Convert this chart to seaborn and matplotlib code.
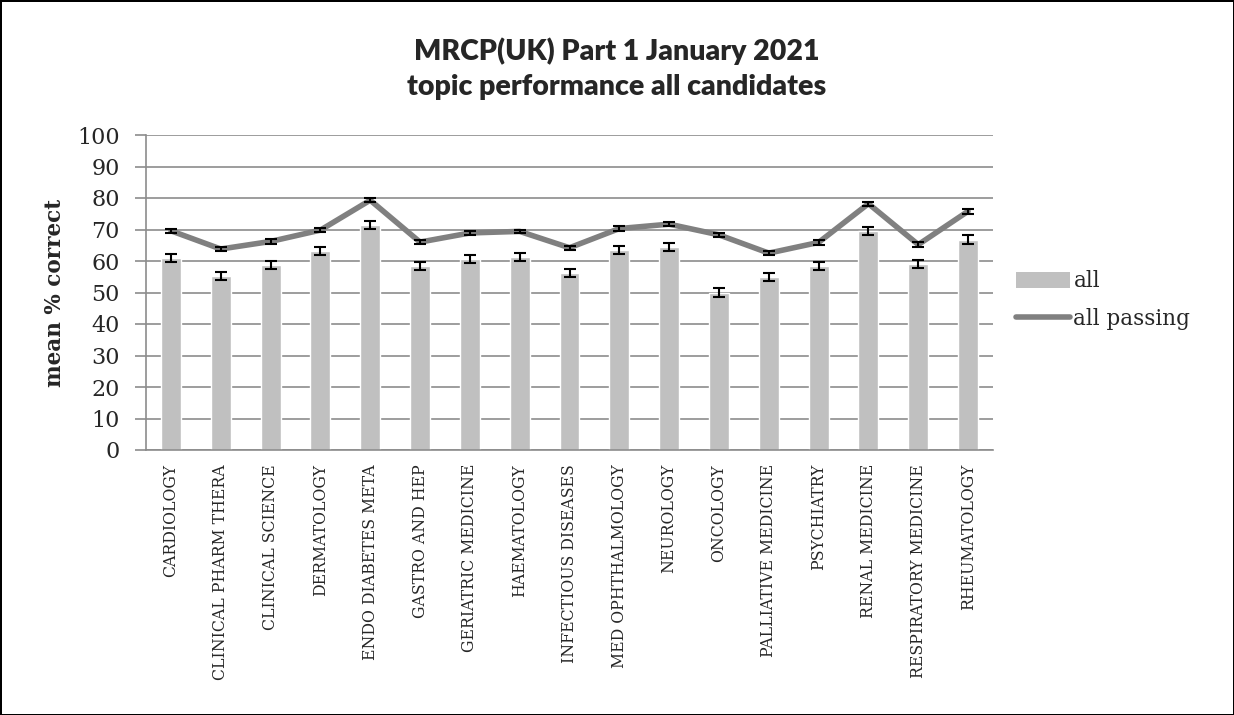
import numpy as np
import matplotlib
matplotlib.use("Agg")
import matplotlib.pyplot as plt
import seaborn as sns
from matplotlib.patches import Patch
from matplotlib.lines import Line2D

topics = ["CARDIOLOGY", "CLINICAL PHARM THERA", "CLINICAL SCIENCE", "DERMATOLOGY",
          "ENDO DIABETES META", "GASTRO AND HEP", "GERIATRIC MEDICINE", "HAEMATOLOGY",
          "INFECTIOUS DISEASES", "MED OPHTHALMOLOGY", "NEUROLOGY", "ONCOLOGY",
          "PALLIATIVE MEDICINE", "PSYCHIATRY", "RENAL MEDICINE", "RESPIRATORY MEDICINE",
          "RHEUMATOLOGY"]
all_vals = [61.0, 55.3, 58.8, 63.3, 71.5, 58.5, 60.6, 61.3, 56.2, 63.5, 64.4, 50.0,
            54.8, 58.5, 69.4, 59.0, 66.8]
all_err = [1.3, 1.3, 1.3, 1.3, 1.3, 1.3, 1.3, 1.3, 1.3, 1.3, 1.2, 1.3, 1.3, 1.3, 1.3, 1.3, 1.3]
passing_vals = [69.6, 63.8, 66.2, 69.8, 79.3, 66.0, 68.9, 69.4, 64.2, 70.3, 71.7, 68.3,
                62.5, 65.9, 78.2, 65.2, 75.8]
passing_err = [0.7, 0.7, 0.7, 0.7, 0.6, 0.7, 0.6, 0.6, 0.7, 0.7, 0.6, 0.7, 0.7, 0.7, 0.6, 0.7, 0.8]
yticks = list(range(0, 101, 10))

sns.set_theme(style="white")
plt.rcParams["font.family"] = ["DejaVu Serif"]

fig = plt.figure(figsize=(12.34, 7.15), dpi=100)
fig.patch.set_edgecolor("black")
fig.patch.set_linewidth(2)
ax = fig.add_axes([146 / 1234, 1 - 450 / 715, (993 - 146) / 1234, (450 - 135) / 715])

bar_color = "#C0C0C0"
line_color = "#808080"

sns.barplot(x=topics, y=all_vals, color=bar_color, width=0.4, saturation=1, ax=ax, zorder=2)
pos = np.arange(len(topics))
ax.errorbar(pos, all_vals, yerr=all_err, fmt="none", ecolor="black", elinewidth=1.5,
            capsize=4, capthick=1.5, zorder=4)
sns.lineplot(x=pos, y=passing_vals, color=line_color, linewidth=4, ax=ax, zorder=3)
ax.errorbar(pos, passing_vals, yerr=passing_err, fmt="none", ecolor="black", elinewidth=1.5,
            capsize=4.5, capthick=1.5, zorder=4)

ax.set_ylim(0, 100)
ax.set_xlim(-0.5, len(topics) - 0.5)
ax.set_yticks(yticks)
ax.set_yticklabels([str(v) for v in yticks], fontsize=16)
ax.set_xticks(pos)
ax.set_xticklabels(topics, rotation=90, fontsize=11.3)
ax.yaxis.grid(True, color="#8C8C8C", linewidth=1.2)
ax.set_axisbelow(True)
for s in ["top", "right"]:
    ax.spines[s].set_visible(False)
ax.spines["left"].set_color("#8C8C8C")
ax.spines["bottom"].set_color("#8C8C8C")
ax.spines["left"].set_linewidth(1.2)
ax.spines["bottom"].set_linewidth(1.2)
ax.tick_params(axis="y", which="major", left=True, length=8, width=1.2, color="#8C8C8C", pad=11)
ax.tick_params(axis="x", bottom=False, length=0, pad=10)
ax.set_xlabel("")
ax.set_ylabel("mean % correct", fontsize=15.5, fontweight="bold", labelpad=8)

fig.suptitle("MRCP(UK) Part 1 January 2021\ntopic performance all candidates",
             fontsize=20.5, fontweight="heavy", family=["Lato", "DejaVu Sans"], y=0.948,
             linespacing=1.45)

handles = [Patch(facecolor=bar_color, edgecolor="none", label="all"),
           Line2D([0], [0], color=line_color, linewidth=4, label="all passing")]
fig.legend(handles=handles, loc="center left", bbox_to_anchor=(997 / 1234, 1 - 300 / 715),
           frameon=False, fontsize=15.5, handlelength=2.5, handleheight=0.8,
           handletextpad=0.15, labelspacing=0.7)

fig.savefig("out.png", dpi=100)
